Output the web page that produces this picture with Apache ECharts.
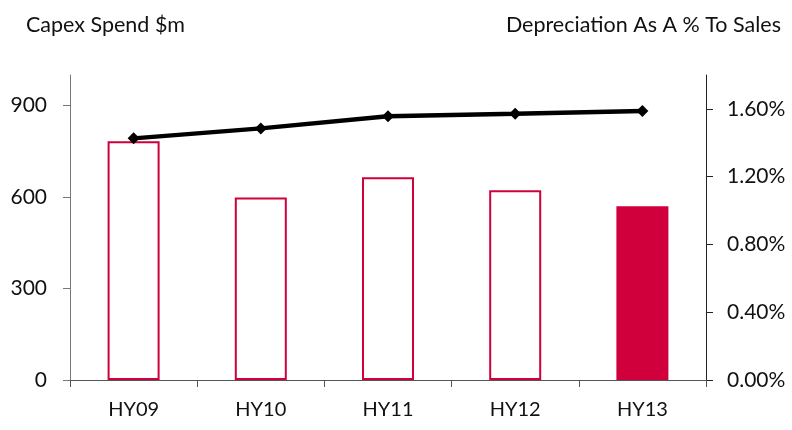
<!DOCTYPE html>
<html><head><meta charset="utf-8">
<script src="https://cdn.jsdelivr.net/npm/echarts@6/dist/echarts.min.js"></script>
<style>html,body{margin:0;padding:0;background:#fff}#c{width:792px;height:430px}</style>
</head><body><div id="c"></div>
<script>
const categories = ['HY09', 'HY10', 'HY11', 'HY12', 'HY13'];
const capex = [783, 598, 665, 622, 570];
const deprPct = [1.426, 1.485, 1.557, 1.571, 1.587];
const leftTicks = [0, 300, 600, 900];
const rightTicks = [0, 0.4, 0.8, 1.2, 1.6];

const red = '#D0003C';
const font = 'Lato, "Open Sans", sans-serif';
const chart = echarts.init(document.getElementById('c'), null, {renderer: 'canvas'});
chart.setOption({
  animation: false,
  textStyle: {fontFamily: font},
  title: [
    {text: 'Capex Spend $m', left: 21, top: 9, textStyle: {fontFamily: font, fontSize: 21.5, fontWeight: 'normal', color: '#111'}},
    {text: 'Depreciation As A % To Sales', right: 6, top: 9, textStyle: {fontFamily: font, fontSize: 21.5, fontWeight: 'normal', color: '#111'}}
  ],
  grid: {left: 70, right: 86, top: 75, bottom: 50},
  xAxis: {
    type: 'category', data: categories,
    axisLine: {lineStyle: {color: '#555', width: 1}},
    axisTick: {show: true, length: 7, lineStyle: {color: '#555'}},
    axisLabel: {fontSize: 20, color: '#111', margin: 20, fontFamily: font}
  },
  yAxis: [
    {
      type: 'value', min: 0, max: 1000, position: 'left',
      splitLine: {show: false},
      axisLine: {show: true, lineStyle: {color: '#777'}},
      axisTick: {show: true, length: 7, customValues: leftTicks, lineStyle: {color: '#777'}},
      axisLabel: {customValues: leftTicks, fontSize: 21, color: '#111', margin: 23, fontFamily: font}
    },
    {
      type: 'value', min: 0, max: 1.8, position: 'right',
      splitLine: {show: false},
      axisLine: {show: true, lineStyle: {color: '#222'}},
      axisTick: {show: true, length: 7, customValues: rightTicks, lineStyle: {color: '#222'}},
      axisLabel: {customValues: rightTicks, fontSize: 21, color: '#111', margin: 21, fontFamily: font,
        formatter: v => v.toFixed(2) + '%'}
    }
  ],
  series: [
    {
      type: 'bar', yAxisIndex: 0, barWidth: 52,
      data: capex.map((v, i) => ({
        value: v,
        itemStyle: i === capex.length - 1
          ? {color: red, borderColor: red, borderWidth: 2}
          : {color: '#fff', borderColor: red, borderWidth: 2}
      }))
    },
    {
      type: 'line', yAxisIndex: 1, data: deprPct,
      lineStyle: {color: '#000', width: 4.5},
      itemStyle: {color: '#000'},
      symbol: 'diamond', symbolSize: 12, z: 5
    }
  ]
});
</script></body></html>
